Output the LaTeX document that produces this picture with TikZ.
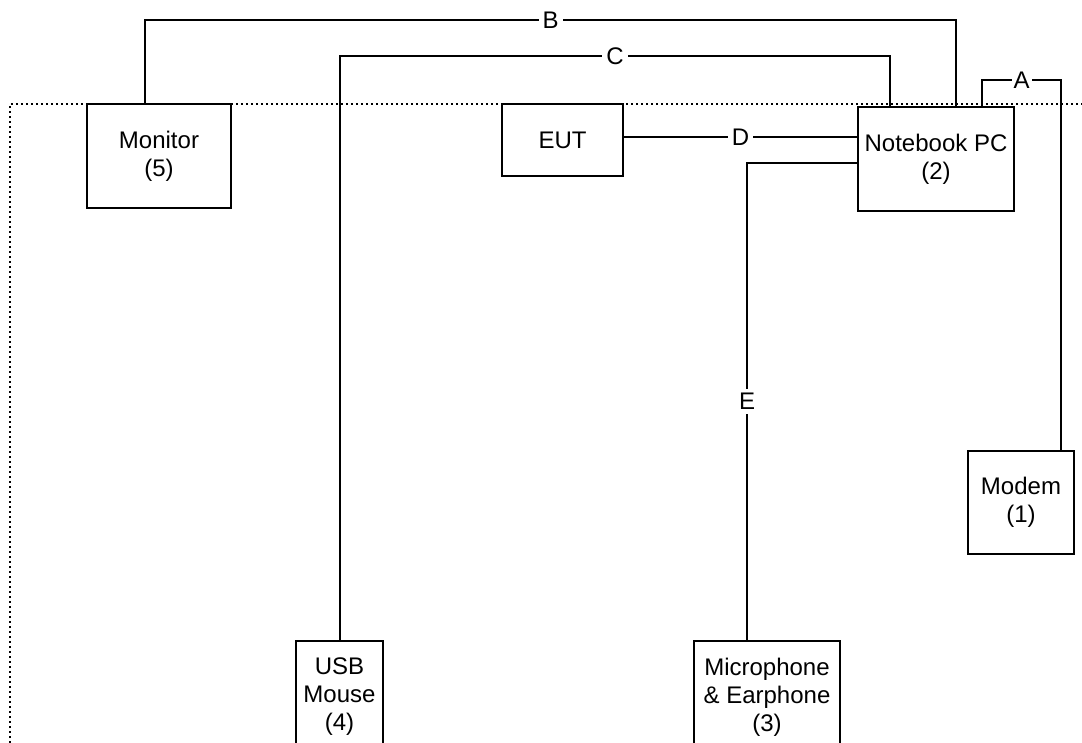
\documentclass[tikz,border=0pt]{standalone}
\usepackage{fontspec}
\setmainfont{Liberation Sans}
\begin{document}
\begin{tikzpicture}[x=0.5pt, y=-0.5pt,
  box/.style={draw, line width=1.2pt, fill=white, align=center, inner sep=0pt,
    font=\fontsize{12}{14}\selectfont},
  wire/.style={line width=1.2pt},
  lbl/.style={fill=white, inner sep=2pt, font=\fontsize{12}{14}\selectfont}]
  \useasboundingbox (0,0) rectangle (1082,743);
  % test area boundary
  \draw[line width=1.1pt, dash pattern=on 1.1pt off 1.4pt] (10,743) |- (1082,104);
  % equipment
  \node[box, minimum width=72pt, minimum height=52pt] (monitor) at (159,156) {Monitor\\(5)};
  \node[box, minimum width=60.5pt, minimum height=36pt] (eut) at (562.5,140) {EUT};
  \node[box, minimum width=78pt, minimum height=52pt] (notebook) at (936,159) {Notebook PC\\(2)};
  \node[box, minimum width=53pt, minimum height=51.5pt] (modem) at (1021,502.5) {Modem\\(1)};
  \node[box, minimum width=43.5pt, minimum height=56pt] (mouse) at (339.5,697) {USB\\Mouse\\(4)};
  \node[box, minimum width=73pt, minimum height=56pt] (mic) at (767,697) {Microphone\\\& Earphone\\(3)};
  % bend points of the cables
  \coordinate (bL) at (145,20);
  \coordinate (bR) at (956,20);
  \coordinate (cL) at (340,56);
  \coordinate (cR) at (890,56);
  \coordinate (dL) at (623,137);
  \coordinate (eBend) at (747,163);
  \coordinate (aL) at (982,80);
  \coordinate (aR) at (1061,80);
  % cables
  \draw[wire] (bL |- monitor.north) -- (bL) -- node[lbl] {B} (bR) -- (bR |- notebook.north);
  \draw[wire] (cL |- mouse.north) -- (cL) -- node[lbl] {C} (cR) -- (cR |- notebook.north);
  \draw[wire] (eut.east |- dL) -- node[lbl] {D} (notebook.west |- dL);
  \draw[wire] (notebook.west |- eBend) -- (eBend) -- node[lbl] {E} (eBend |- mic.north);
  \draw[wire] (aL |- notebook.north) -- (aL) -- node[lbl, inner sep=1pt] {A} (aR) -- (aR |- modem.north);
\end{tikzpicture}
\end{document}
